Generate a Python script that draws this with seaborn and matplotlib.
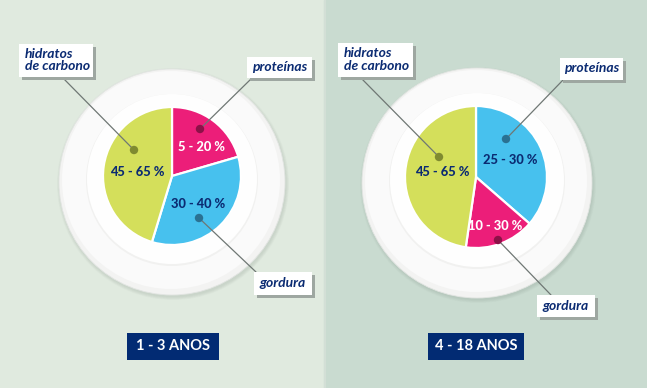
import matplotlib
matplotlib.use("Agg")
import matplotlib.pyplot as plt
import seaborn as sns
from matplotlib.patches import Circle, Rectangle

sns.set_theme(style="white")
plt.rcParams['font.family'] = ['Lato', 'DejaVu Sans']

# ---- data ----
nutrients_left = ["proteínas", "gordura", "hidratos de carbono"]
shares_left = [20.5, 34.2, 45.3]
labels_left = ["5 - 20 %", "30 - 40 %", "45 - 65 %"]
nutrients_right = ["proteínas", "gordura", "hidratos de carbono"]
shares_right = [36.4, 15.9, 47.7]
labels_right = ["25 - 30 %", "10 - 30 %", "45 - 65 %"]
age_groups = ["1 - 3 ANOS", "4 - 18 ANOS"]

MAGENTA = "#ec1e79"
BLUE = "#47c1ee"
YELLOW = "#d4df5b"
NAVY = "#0b2b72"
DOT = {MAGENTA: "#8c1148", BLUE: "#2a7192", YELLOW: "#7f8a30"}

W, H = 647, 388
fig = plt.figure(figsize=(W / 100, H / 100), dpi=100)
ax = fig.add_axes([0, 0, 1, 1])

def Y(py):
    return H - py

panels = [
    dict(x0=0, x1=324, bg="#e0eadf", cx=172, cy=176, r=69, pcx=172, pcy=182, pr=113,
         shares=shares_left, texts=labels_left, colors=[MAGENTA, BLUE, YELLOW],
         text_pos=[(202, 147), (198, 204), (137, 172)],
         text_col=["white", NAVY, NAVY],
         dots=[(200, 129), (199, 218), (134, 150)],
         boxes=[(247, 57, 312, 78), (254, 272, 312, 295), (19, 44, 93, 77)],
         line_start=[(252, 78), (256, 272), (62, 77)],
         tag=(127, 333, 219, 360), tagtext=age_groups[0]),
    dict(x0=324, x1=647, bg="#c9dbd0", cx=476, cy=177, r=71, pcx=477, pcy=183, pr=115,
         shares=shares_right, texts=labels_right, colors=[BLUE, MAGENTA, YELLOW],
         text_pos=[(510, 160), (495, 226), (442, 172)],
         text_col=[NAVY, "white", NAVY],
         dots=[(506, 139), (498, 240), (439, 157)],
         boxes=[(560, 58, 623, 80), (537, 295, 595, 317), (338, 43, 413, 77)],
         line_start=[(563, 80), (551, 295), (360, 77)],
         tag=(428, 333, 524, 360), tagtext=age_groups[1]),
]

for p in panels:
    ax.add_patch(Rectangle((p["x0"], 0), p["x1"] - p["x0"], H, color=p["bg"], zorder=0))
    # plate shadow (soft)
    for i in range(6):
        ax.add_patch(Circle((p["pcx"] + 1, Y(p["pcy"] + 2)), p["pr"] + 3 - i * 0.6,
                            color="#7c8a80", alpha=0.035, lw=0, zorder=1))
    # plate rim
    ax.add_patch(Circle((p["pcx"], Y(p["pcy"])), p["pr"], facecolor="#f3f3f2",
                        edgecolor="#e2e5e2", lw=0.6, zorder=2))
    ax.add_patch(Circle((p["pcx"] - 1, Y(p["pcy"] - 2)), p["pr"] - 4, facecolor="#fafafa",
                        lw=0, zorder=2))
    # plate well
    ax.add_patch(Circle((p["pcx"], Y(p["pcy"] - 2)), p["pr"] - 27, facecolor="#f1f1f0",
                        lw=0, zorder=2))
    ax.add_patch(Circle((p["pcx"], Y(p["pcy"] - 3)), p["pr"] - 28, facecolor="#fefefe",
                        lw=0, zorder=2))
    wedges, _ = ax.pie(p["shares"], colors=p["colors"], startangle=90, counterclock=False,
                       center=(p["cx"], Y(p["cy"])), radius=p["r"],
                       wedgeprops=dict(edgecolor="white", linewidth=1.6), frame=True)
    for w in wedges:
        w.set_zorder(3)
    for (tx, ty), t, c in zip(p["text_pos"], p["texts"], p["text_col"]):
        ax.text(tx, Y(ty), t, color=c, fontsize=9.3, fontweight="black",
                ha="center", va="center", zorder=5)
    names = ["proteínas", "gordura", "hidratos\nde carbono"]
    for (dx, dy), (sx, sy), col, box, name in zip(p["dots"], p["line_start"], p["colors"],
                                                   p["boxes"], names):
        ax.plot([sx, dx], [Y(sy), Y(dy)], color="#6f7774", lw=0.9, zorder=4)
        ax.add_patch(Circle((dx, Y(dy)), 4.2, color=DOT[col], lw=0, zorder=5))
        bx0, by0, bx1, by1 = box
        ax.add_patch(Rectangle((bx0 + 3, Y(by1 + 3)), bx1 - bx0, by1 - by0,
                               color="#9ea7a1", lw=0, zorder=6))
        ax.add_patch(Rectangle((bx0, Y(by1)), bx1 - bx0, by1 - by0,
                               color="white", lw=0, zorder=7))
        if "\n" in name:
            ax.text(bx0 + 6, Y((by0 + by1) / 2 - 0.5), name, color=NAVY, fontsize=10,
                    fontweight="bold", style="italic", ha="left", va="center",
                    linespacing=1.05, zorder=8)
        else:
            ax.text((bx0 + bx1) / 2, Y((by0 + by1) / 2 - 0.5), name, color=NAVY, fontsize=10,
                    fontweight="bold", style="italic", ha="center", va="center", zorder=8)
    tx0, ty0, tx1, ty1 = p["tag"]
    ax.add_patch(Rectangle((tx0, Y(ty1)), tx1 - tx0, ty1 - ty0, color="#022b73", lw=0, zorder=6))
    ax.text((tx0 + tx1) / 2, Y((ty0 + ty1) / 2), p["tagtext"], color="white", fontsize=10.5,
            fontweight="bold", ha="center", va="center", zorder=7)

ax.add_patch(Rectangle((324, 0), 2, H, color="#d3dfd6", lw=0, zorder=0.5))
ax.set_xlim(0, W)
ax.set_ylim(0, H)
ax.set_aspect("auto")
ax.axis("off")
fig.savefig("out.png", dpi=100)
